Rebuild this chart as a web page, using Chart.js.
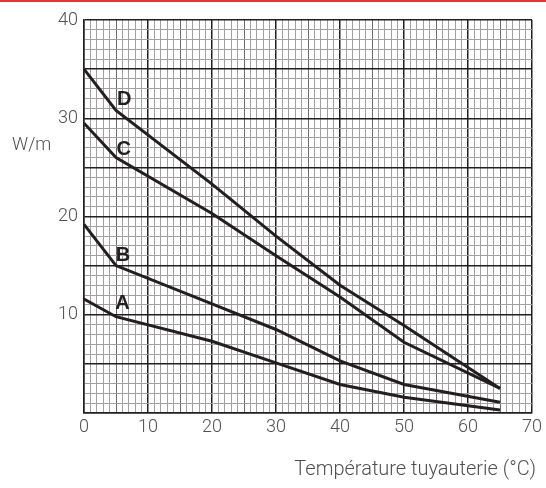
<!DOCTYPE html>
<html>
<head>
<meta charset="utf-8">
<script src="https://cdn.jsdelivr.net/npm/chart.js@4/dist/chart.umd.min.js"></script>
<style>
    html, body { margin: 0; padding: 0; background: #ffffff; }
    #chart { display: block; }
</style>
</head>
<body>
<canvas id="chart" width="546" height="488"></canvas>
<script>

// Data
const temperatures = [0, 5, 20, 30, 40, 50, 65];
const serieA = [11.6, 9.8, 7.3, 5.1, 2.9, 1.6, 0.3];
const serieB = [19.2, 15.0, 11.1, 8.5, 5.3, 2.9, 1.1];
const serieC = [29.5, 26.0, 20.3, 16.0, 11.8, 7.2, 2.5];
const serieD = [35.0, 30.8, 23.3, 18.0, 13.0, 8.9, 2.5];
const curveNames = ['A', 'B', 'C', 'D'];
const curveLabelX = [6.0, 6.1, 6.2, 6.3];
const curveLabelY = [11.3, 16.2, 27.0, 32.1];
const xTickLabels = [0, 10, 20, 30, 40, 50, 60, 70];
const yTickLabels = [10, 20, 30, 40];
const yTitle = 'W/m';
const xTitle = 'Température tuyauterie (°C)';

// Colors
const ink = '#231f20';
const textColor = '#505050';

// Build Points
const toPoints = function (values) {
    return values.map((v, i) => ({ x: temperatures[i], y: v }));
};

// Grid Style
const gridColor = function (ctx, every) {
    const v = Math.round(ctx.tick.value);
    if (v % every === 0) { return ink; }
    if (v % 5 === 0) { return '#6a6a6a'; }
    return '#a0a0a0';
};
const gridWidth = function (ctx, every) {
    const v = Math.round(ctx.tick.value);
    if (v % every === 0) { return 1.5; }
    return 1;
};

// Extra Text
const extraText = {
    id: 'extraText',
    afterDraw(chart) {
        const ctx = chart.ctx;
        const xs = chart.scales.x;
        const ys = chart.scales.y;
        ctx.save();

        // Red Line
        ctx.fillStyle = '#e2333f';
        ctx.fillRect(0, 0, chart.width, 2);

        // Titles
        ctx.fillStyle = textColor;
        ctx.font = '300 18px Roboto, "Noto Sans", sans-serif';
        ctx.textBaseline = 'middle';
        ctx.textAlign = 'left';
        ctx.fillText(yTitle, 12, 145);
        ctx.font = '300 20px Roboto, "Noto Sans", sans-serif';
        ctx.textAlign = 'right';
        ctx.fillText(xTitle, 536, 470);

        // Curve Names
        ctx.fillStyle = ink;
        ctx.font = 'bold 20px "Liberation Sans", Arial, sans-serif';
        ctx.textAlign = 'center';
        ctx.textBaseline = 'alphabetic';
        for (let i = 0; i < curveNames.length; i++) {
            ctx.fillText(curveNames[i], xs.getPixelForValue(curveLabelX[i]), ys.getPixelForValue(curveLabelY[i]) + 7.5);
        }

        ctx.restore();
    }
};

// Dataset
const makeSet = function (values) {
    return {
        data: toPoints(values),
        borderColor: ink,
        borderWidth: 3,
        pointRadius: 0,
        tension: 0,
        fill: false,
        borderJoinStyle: 'miter'
    };
};

// Create Chart
const ctx = document.getElementById('chart').getContext('2d');
new Chart(ctx, {
    type: 'line',
    data: {
        datasets: [makeSet(serieA), makeSet(serieB), makeSet(serieC), makeSet(serieD)]
    },
    options: {
        responsive: false,
        animation: false,
        devicePixelRatio: 1,
        layout: { padding: { left: 0, right: 8, top: 20, bottom: 0 } },
        plugins: {
            legend: { display: false },
            tooltip: { enabled: false }
        },
        scales: {
            x: {
                type: 'linear',
                min: 0,
                max: 70,
                afterFit: function (scale) { scale.height = 75; },
                border: { color: ink, width: 1.5 },
                grid: {
                    drawTicks: false,
                    color: (c) => gridColor(c, 10),
                    lineWidth: (c) => gridWidth(c, 10)
                },
                ticks: {
                    stepSize: 1,
                    autoSkip: false,
                    maxRotation: 0,
                    padding: 4,
                    color: textColor,
                    font: { family: 'Roboto', size: 18, weight: 300 },
                    callback: (v) => xTickLabels.includes(v) ? String(v) : ''
                }
            },
            y: {
                min: 0,
                max: 40,
                afterFit: function (scale) { scale.width = 84; },
                border: { color: ink, width: 1.5 },
                grid: {
                    drawTicks: false,
                    color: (c) => gridColor(c, 5),
                    lineWidth: (c) => gridWidth(c, 5)
                },
                ticks: {
                    stepSize: 1,
                    autoSkip: false,
                    padding: 6,
                    color: textColor,
                    font: { family: 'Roboto', size: 18, weight: 300 },
                    callback: (v) => yTickLabels.includes(v) ? String(v) : ''
                }
            }
        }
    },
    plugins: [extraText]
});

</script>
</body>
</html>
